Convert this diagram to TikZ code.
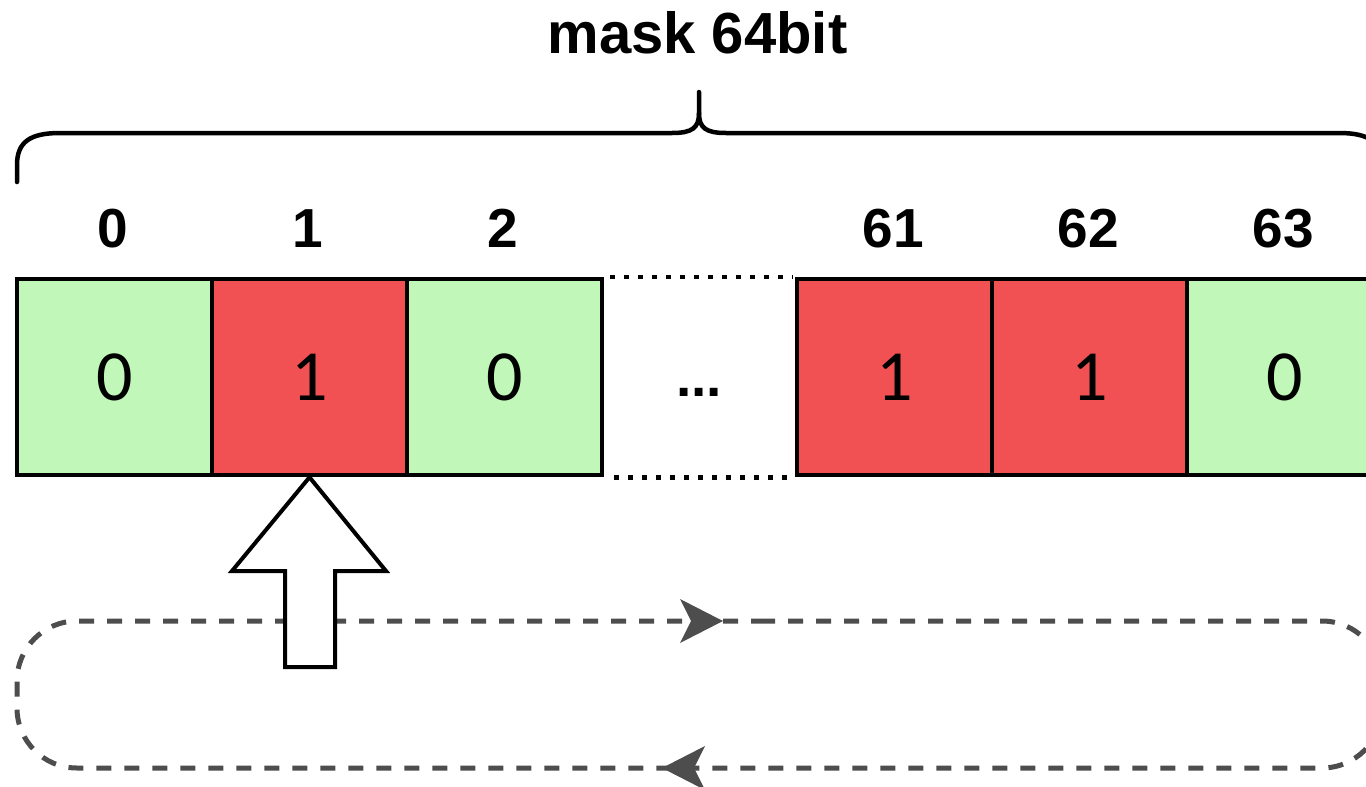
\documentclass[tikz,border=0pt]{standalone}
\usepackage{fontspec}
\setmainfont{Liberation Sans}
\newfontfamily\cellfont{Carlito}
\definecolor{cellgreen}{HTML}{C2F7BA}
\definecolor{cellred}{HTML}{F15152}
\definecolor{loopgray}{HTML}{4D4D4D}
\tikzset{
  cellbox/.style={draw=black, line width=4.5pt, minimum width=195pt, minimum height=196pt, inner sep=0pt,
    font=\cellfont\fontsize{72}{72}\selectfont},
  idxlabel/.style={anchor=base, inner sep=0pt, font=\bfseries\fontsize{55}{55}\selectfont},
  dotline/.style={line width=4.5pt, dash pattern=on 5pt off 9pt},
  loopline/.style={draw=loopgray, line width=5pt, dash pattern=on 15pt off 13pt, rounded corners=60pt},
  bracepath/.style={draw=black, line width=4.5pt, line cap=round},
  blockarrow/.style={draw=black, fill=white, line width=4pt, line join=miter}
}
\begin{document}
\begin{tikzpicture}[x=1pt, y=-1pt]
\useasboundingbox (0,0) rectangle (1366,787);
\fill[white] (0,0) rectangle (1366,787);

% title
\node[anchor=base, inner sep=0pt, font=\bfseries\fontsize{58}{58}\selectfont] (title) at (697.5,53) {mask 64bit};

% brace
\draw[bracepath] (17,182) -- (17,165) .. controls (17,142) and (30,133) .. (60,133)
  -- (672,133) .. controls (692,133) and (699,128) .. (699,113) -- (699,92);
\draw[bracepath] (699,113) .. controls (699,128) and (706,133) .. (726,133)
  -- (1339,133) .. controls (1369,133) and (1382,142) .. (1382,165) -- (1382,182);

% index labels
\node[idxlabel] (l0) at (113,247) {0};
\node[idxlabel] (l1) at (308,247) {1};
\node[idxlabel] (l2) at (503,247) {2};
\node[idxlabel] (l61) at (893,247) {61};
\node[idxlabel] (l62) at (1088,247) {62};
\node[idxlabel] (l63) at (1283,247) {63};

% cells
\node[cellbox, fill=cellgreen] (c0) at (114.5,377) {0};
\node[cellbox, fill=cellred] (c1) at (309.5,377) {1};
\node[cellbox, fill=cellgreen] (c2) at (504.5,377) {0};
\node[cellbox, fill=cellred] (c61) at (894.5,377) {1};
\node[cellbox, fill=cellred] (c62) at (1089.5,377) {1};
\node[cellbox, fill=cellgreen] (c63) at (1284.5,377) {0};

% gap
\draw[dotline] ([xshift=6pt]c2.north east) -- ([xshift=-2pt]c61.north west);
\draw[dotline] ([xshift=10pt]c2.south east) -- ([xshift=-2pt]c61.south west);
\node[anchor=base, inner sep=0pt, font=\bfseries\fontsize{55}{55}\selectfont] (dots) at (699,396) {...};

% dashed loop
\draw[loopline] (700,621) -- (1382,621) -- (1382,768) -- (17,768) -- (17,621) -- cycle;
\coordinate (topTip) at (723,621);
\coordinate (botTip) at (662,768);
\fill[loopgray] (topTip) -- (680,599) -- (691,621) -- (680,643) -- cycle;
\fill[loopgray] (botTip) -- (705,746) -- (694,768) -- (705,790) -- cycle;

% block arrow
\draw[blockarrow] (c1.south) -- (386,571) -- (335,571) -- (335,667) -- (285,667) -- (285,571) -- (232,571) -- cycle;
\end{tikzpicture}
\end{document}
